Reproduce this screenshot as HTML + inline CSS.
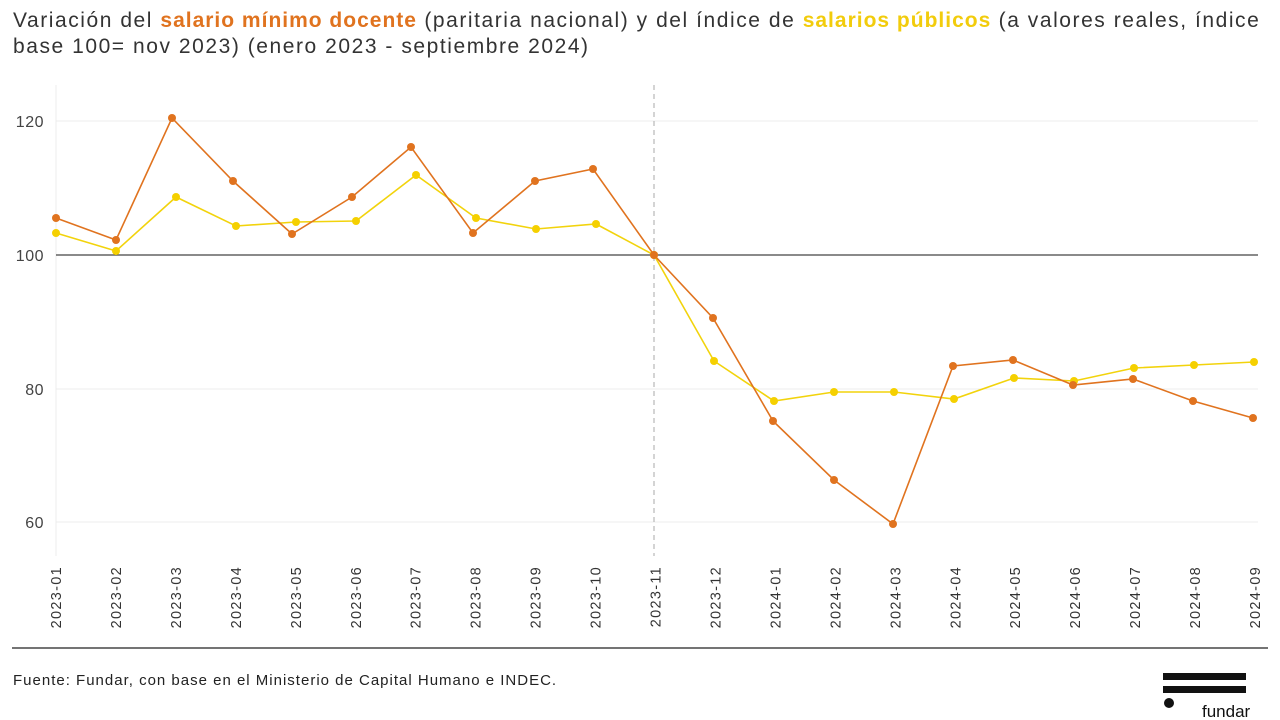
<!DOCTYPE html>
<html><head><meta charset="utf-8"><style>
body{margin:0;width:1280px;height:720px;background:#fff;overflow:hidden;font-family:"Liberation Sans",sans-serif}
.t{position:absolute;left:13px;top:8px;font-size:21px;line-height:26px;color:#333;width:1275px;letter-spacing:1.55px;white-space:nowrap}
.o{color:#e0731f;font-weight:bold;letter-spacing:1px}.y{color:#f2cc0c;font-weight:bold;letter-spacing:1px}
</style></head><body>
<div class="t">Variación del <span class="o">salario mínimo docente</span> (paritaria nacional) y del índice de <span class="y">salarios públicos</span> (a valores reales, índice<br>base 100= nov 2023) (enero 2023 - septiembre 2024)</div>
<svg width="1280" height="720" style="position:absolute;left:0;top:0" font-family="Liberation Sans, sans-serif">
<g stroke="#ececec" stroke-width="1">
<line x1="56" y1="121" x2="1258" y2="121"/><line x1="56" y1="389" x2="1258" y2="389"/><line x1="56" y1="522" x2="1258" y2="522"/>
<line x1="56" y1="85" x2="56" y2="556"/>
</g>
<line x1="56" y1="255" x2="1258" y2="255" stroke="#444" stroke-width="1.3"/>
<line x1="654" y1="85" x2="654" y2="556" stroke="#aaa" stroke-dasharray="5,4"/>
<g fill="#444" font-size="16" text-anchor="end" letter-spacing="0.5">
<text x="44" y="127">120</text><text x="44" y="261">100</text><text x="44" y="395">80</text><text x="44" y="528">60</text>
</g>
<g id="xl" fill="#333" font-size="14.5" text-anchor="end" letter-spacing="1.3"></g>
<polyline fill="none" stroke="#f2d30c" stroke-width="1.6" points="56,233 116,251 176,197 236,226 296,222 356,221 416,175 476,218 536,229 596,224 654,255 714,361 774,401 834,392 894,392 954,399 1014,378 1074,381 1134,368 1194,365 1254,362"/>
<polyline fill="none" stroke="#e0731f" stroke-width="1.6" points="56,218 116,240 172,118 233,181 292,234 352,197 411,147 473,233 535,181 593,169 654,255 713,318 773,421 834,480 893,524 953,366 1013,360 1073,385 1133,379 1193,401 1253,418"/>
<g id="yd" fill="#f5d000"></g><g id="od" fill="#e0731f"></g>
<line x1="12" y1="648" x2="1268" y2="648" stroke="#222" stroke-width="1.2"/>
<text x="13" y="685" font-size="15" fill="#222" letter-spacing="1">Fuente: Fundar, con base en el Ministerio de Capital Humano e INDEC.</text>
<rect x="1163" y="673" width="83" height="7" fill="#111"/><rect x="1163" y="686" width="83" height="7" fill="#111"/>
<circle cx="1169" cy="703" r="5" fill="#111"/>
<text x="1202" y="717" font-size="17" fill="#111">fundar</text>
</svg>
<script>
const ns="http://www.w3.org/2000/svg";
function dots(id,pts){const g=document.getElementById(id);pts.trim().split(/\s+/).forEach(p=>{const [x,y]=p.split(",");const c=document.createElementNS(ns,"circle");c.setAttribute("cx",x);c.setAttribute("cy",y);c.setAttribute("r",4);g.appendChild(c);});}
document.querySelectorAll("polyline").forEach((p,i)=>dots(i==0?"yd":"od",p.getAttribute("points")));
const xl=document.getElementById("xl");
const labs=["2023-01","2023-02","2023-03","2023-04","2023-05","2023-06","2023-07","2023-08","2023-09","2023-10","2023-11","2023-12","2024-01","2024-02","2024-03","2024-04","2024-05","2024-06","2024-07","2024-08","2024-09"];
labs.forEach((l,i)=>{const x=56+i*59.95;const t=document.createElementNS(ns,"text");t.setAttribute("transform",`translate(${x+5},566) rotate(-90)`);t.textContent=l;xl.appendChild(t);});
</script>
</body></html>
